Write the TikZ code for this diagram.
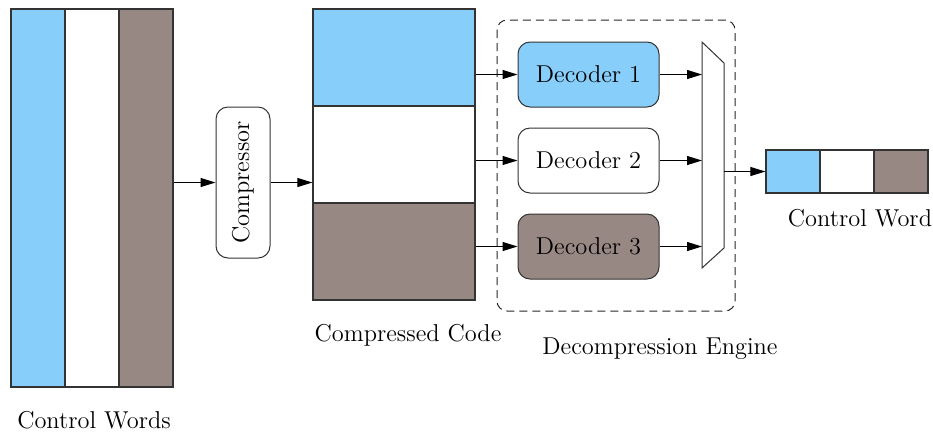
\documentclass[tikz,border=0pt]{standalone}
\usetikzlibrary{arrows.meta}
\definecolor{skyfill}{RGB}{135,206,250}
\definecolor{brownfill}{RGB}{152,136,132}
\begin{document}
\begin{tikzpicture}[x=0.5pt,y=-0.5pt,font=\fontsize{12.2}{14}\selectfont]
  \tikzset{
    cell/.style={draw=black!80,line width=0.6pt,inner sep=0pt},
    decoder/.style={draw=black!80,line width=0.5pt,rounded corners=6pt,
      minimum width=70.5pt,minimum height=32.5pt,inner sep=0pt},
    flow/.style={-{Triangle[length=7.5pt,width=4.5pt]},line width=0.55pt,draw=black}
  }
  \useasboundingbox (0,0) rectangle (933,436);

  \node[cell,fill=skyfill,minimum width=27pt,minimum height=189pt] (words1) at (38,198) {};
  \node[cell,fill=white,minimum width=27pt,minimum height=189pt] (words2) at (92,198) {};
  \node[cell,fill=brownfill,minimum width=27pt,minimum height=189pt] (words3) at (146,198) {};
  \node (wordslabel) at (94,420) {Control Words};

  \node[draw=black!80,line width=0.5pt,rounded corners=6pt,rotate=90,
    minimum width=75.5pt,minimum height=27pt,inner sep=0pt] (compressor) at (243,182.5) {Compressor};
  \draw[flow] (words3.east |- compressor.center) -- (compressor.north);

  \node[cell,fill=skyfill,minimum width=81pt,minimum height=48.5pt] (code1) at (394,57.5) {};
  \node[cell,fill=white,minimum width=81pt,minimum height=48.5pt] (code2) at (394,154.5) {};
  \node[cell,fill=brownfill,minimum width=81pt,minimum height=48.5pt] (code3) at (394,251.5) {};
  \node (codelabel) at (408,335) {Compressed Code};
  \draw[flow] (compressor.south) -- (code2.west |- compressor.center);

  \draw[dash pattern=on 4pt off 2.5pt,draw=black!85,line width=0.5pt,rounded corners=5pt]
    (497,20) rectangle (735,311);
  \node (enginelabel) at (660,349) {Decompression Engine};

  \node[decoder,fill=skyfill] (dec1) at (588.5,74.5) {Decoder 1};
  \node[decoder,fill=white] (dec2) at (588.5,160.5) {Decoder 2};
  \node[decoder,fill=brownfill] (dec3) at (588.5,246.5) {Decoder 3};
  \draw[flow] (code1.east |- dec1.west) -- (dec1.west);
  \draw[flow] (code2.east |- dec2.west) -- (dec2.west);
  \draw[flow] (code3.east |- dec3.west) -- (dec3.west);

  \draw[draw=black!80,line width=0.5pt,fill=white]
    (702,42) -- (724,63) -- (724,248) -- (702,268) -- cycle;
  \coordinate (mux) at (702,155);
  \coordinate (muxout) at (724,171.5);
  \draw[flow] (dec1.east) -- (mux |- dec1.east);
  \draw[flow] (dec2.east) -- (mux |- dec2.east);
  \draw[flow] (dec3.east) -- (mux |- dec3.east);

  \node[cell,fill=skyfill,minimum width=27pt,minimum height=21.5pt] (word1) at (793,171.5) {};
  \node[cell,fill=white,minimum width=27pt,minimum height=21.5pt] (word2) at (847,171.5) {};
  \node[cell,fill=brownfill,minimum width=27pt,minimum height=21.5pt] (word3) at (901,171.5) {};
  \node (wordlabel) at (860,218) {Control Word};
  \draw[flow] (muxout) -- (word1.west);
\end{tikzpicture}
\end{document}
